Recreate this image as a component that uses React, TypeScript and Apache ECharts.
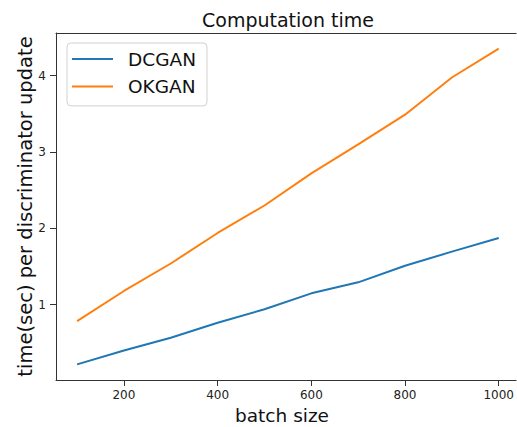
import React, { useEffect, useRef } from "react";
import * as echarts from "echarts";

const batchSizes = [100, 200, 300, 400, 500, 600, 700, 800, 900, 1000];
const dcganTimes = [0.218, 0.4, 0.567, 0.763, 0.94, 1.149, 1.293, 1.511, 1.695, 1.875];
const okganTimes = [0.786, 1.18, 1.54, 1.94, 2.3, 2.72, 3.1, 3.49, 3.977, 4.354];
const xTicks = [200, 400, 600, 800, 1000];
const yTicks = [1, 2, 3, 4];

const FONT = "DejaVu Sans";

export default function App() {
  const ref = useRef<HTMLDivElement>(null);
  useEffect(() => {
    if (!ref.current) return;
    const chart = echarts.init(ref.current, null, { renderer: "svg" });
    chart.setOption({
      animation: false,
      backgroundColor: "#ffffff",
      textStyle: { fontFamily: FONT },
      grid: {
        left: 56,
        top: 33,
        right: 0,
        height: 347,
      },
      legend: {
        left: 67,
        top: 43,
        orient: "vertical",
        icon: "rect",
        itemWidth: 41,
        itemHeight: 2,
        itemGap: 8.4,
        padding: [6.5, 11, 10, 5],
        backgroundColor: "rgba(255,255,255,0.8)",
        borderColor: "#d0d0d0",
        borderWidth: 1,
        borderRadius: 4,
        textStyle: {
          fontFamily: FONT,
          fontSize: 18.5,
          color: "#111",
          padding: [0, 0, 0, 10],
        },
        data: ["DCGAN", "OKGAN"],
      },
      xAxis: [
        {
          type: "value",
          min: 55,
          max: 1037,
          splitLine: { show: false },
          axisLine: { show: true, lineStyle: { color: "#333", width: 1 } },
          axisTick: {
            show: true,
            length: 6,
            lineStyle: { color: "#333", width: 1 },
            customValues: xTicks,
          },
          axisLabel: {
            customValues: xTicks,
            formatter: (v: number) => String(v),
            fontFamily: FONT,
            fontSize: 12,
            color: "#222",
            margin: 9,
          },
        },
        {
          type: "value",
          position: "top",
          min: 55,
          max: 1037,
          splitLine: { show: false },
          axisLine: { show: true, lineStyle: { color: "#333", width: 1 } },
          axisTick: { show: false },
          axisLabel: { show: false },
        },
      ],
      yAxis: {
        type: "value",
        min: 0.0135,
        max: 4.56,
        splitLine: { show: false },
        axisLine: { show: true, lineStyle: { color: "#333", width: 1 } },
        axisTick: {
          show: true,
          length: 6,
          lineStyle: { color: "#333", width: 1 },
          customValues: yTicks,
        },
        axisLabel: {
          customValues: yTicks,
          fontFamily: FONT,
          fontSize: 12,
          color: "#222",
          margin: 10,
        },
      },
      graphic: [
        {
          type: "text",
          x: 288,
          y: 19.5,
          style: {
            text: "Computation time",
            fontFamily: FONT,
            fontSize: 19,
            fill: "#111",
            textAlign: "center",
            textVerticalAlign: "middle",
          },
        },
        {
          type: "text",
          x: 282,
          y: 415.5,
          style: {
            text: "batch size",
            fontFamily: FONT,
            fontSize: 18.5,
            fill: "#111",
            textAlign: "center",
            textVerticalAlign: "middle",
          },
        },
        {
          type: "text",
          x: 25,
          y: 206.5,
          rotation: Math.PI / 2,
          style: {
            text: "time(sec) per discriminator update",
            fontFamily: FONT,
            fontSize: 19.5,
            fill: "#111",
            textAlign: "center",
            textVerticalAlign: "middle",
          },
        },
      ],
      series: [
        {
          name: "DCGAN",
          type: "line",
          data: batchSizes.map((b, i) => [b, dcganTimes[i]]),
          showSymbol: false,
          symbol: "none",
          lineStyle: { color: "#1f77b4", width: 2 },
          itemStyle: { color: "#1f77b4" },
        },
        {
          name: "OKGAN",
          type: "line",
          data: batchSizes.map((b, i) => [b, okganTimes[i]]),
          showSymbol: false,
          symbol: "none",
          lineStyle: { color: "#ff7f0e", width: 2 },
          itemStyle: { color: "#ff7f0e" },
        },
      ],
    });
    return () => chart.dispose();
  }, []);
  return (
    <div
      ref={ref}
      style={{ position: "fixed", left: 0, top: 0, width: 517, height: 427 }}
    />
  );
}
